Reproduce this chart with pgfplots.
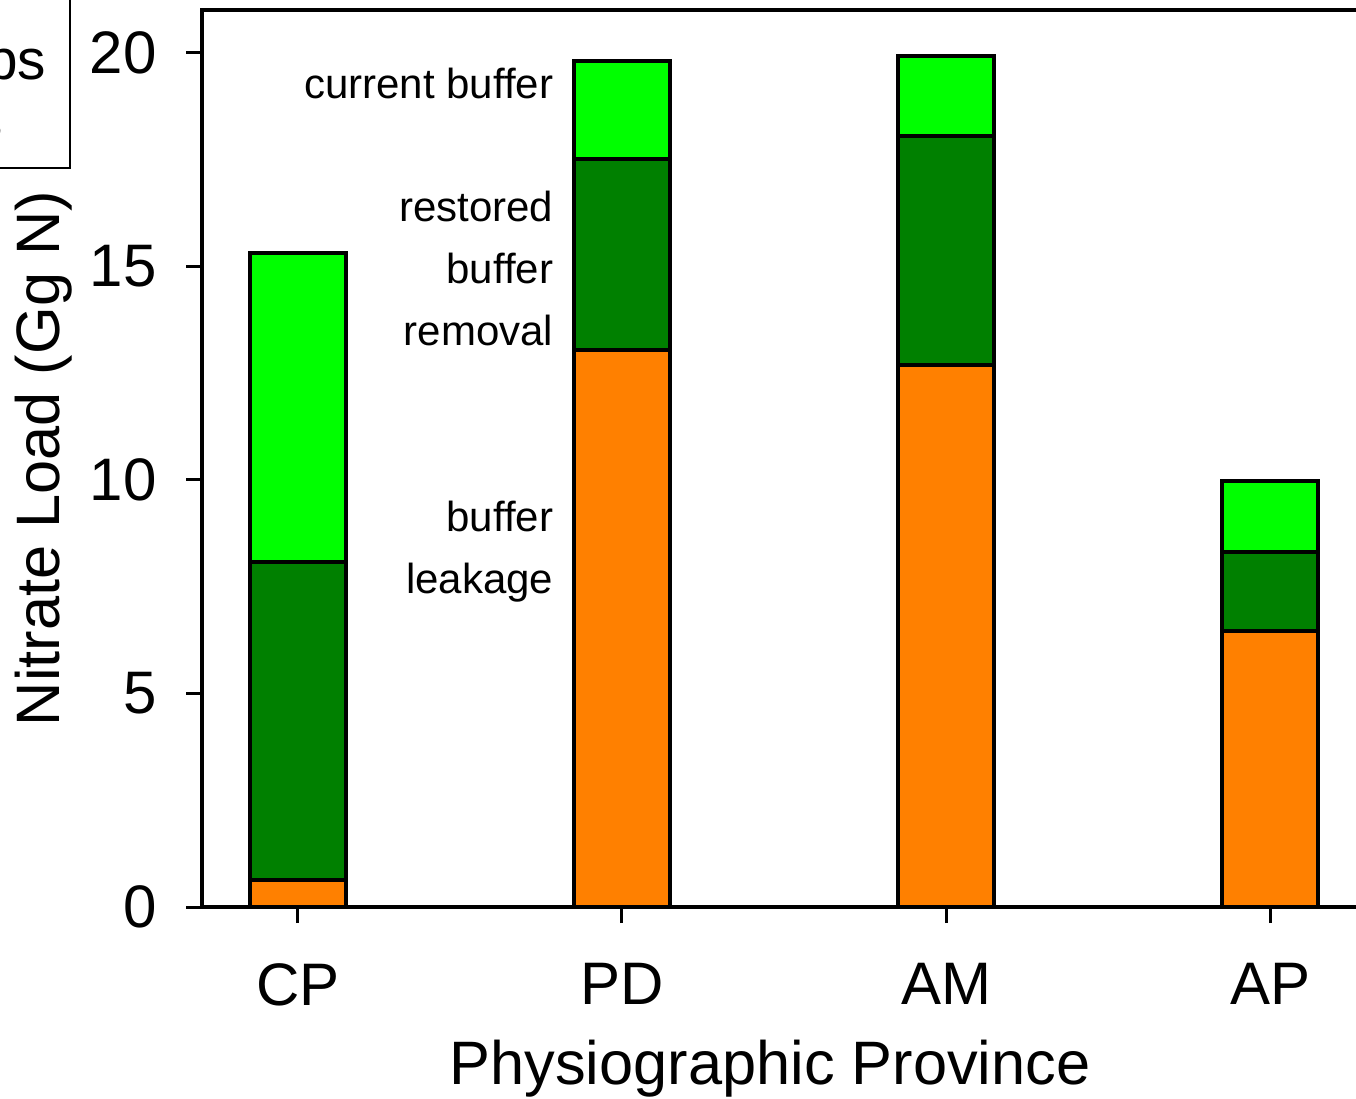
\documentclass[border=0pt]{standalone}
\usepackage{pgfplots}
\pgfplotsset{compat=1.18}
\usepackage{fontspec}
\setmainfont{Liberation Sans}
\definecolor{leak}{HTML}{FF8000}
\definecolor{rem}{HTML}{008000}
\definecolor{cur}{HTML}{00FF00}
\tikzset{annot/.style={anchor=base east, inner sep=0pt, font=\fontsize{12.6}{15}\selectfont}}
\begin{document}
\begin{tikzpicture}
\useasboundingbox (0,0) rectangle (406.8pt,329.4pt);
\clip (0,0) rectangle (406.8pt,329.4pt);
% partially visible box at the top left
\draw[line width=0.5pt] (-120pt,279.0pt) rectangle (21pt,400pt);
\node[anchor=base east, inner sep=0pt, font=\fontsize{17}{20}\selectfont] at (14.1pt,305.4pt) {strips};
\node[anchor=base east, inner sep=0pt, font=\fontsize{17}{20}\selectfont] at (1.2pt,287.4pt) {buffers};
\begin{axis}[
  scale only axis,
  width=349.2pt, height=269.1pt,
  at={(60.6pt,57.3pt)}, anchor=south west,
  ybar stacked,
  bar width=0.296,
  xmin=-0.296, xmax=3.296,
  ymin=0, ymax=21,
  xtick={0,1,2,3},
  xticklabels={CP,PD,AM,AP},
  ytick={0,5,10,15,20},
  tick pos=left,
  tick align=outside,
  major tick length=4.8pt,
  every tick/.style={black, line width=0.9pt},
  axis line style={line width=1.2pt},
  /pgf/number format/assume math mode=true,
  ticklabel style={font=\fontsize{18}{21}\selectfont},
  yticklabel style={anchor=east, inner sep=0pt, xshift=-8.6pt},
  xticklabel style={anchor=north, inner sep=0pt, yshift=-12pt},
  xlabel={Physiographic Province},
  ylabel={Nitrate Load (Gg N)},
  label style={font=\fontsize{18.4}{21}\selectfont},
  xlabel style={at={(axis description cs:0.488,-0.198)}, anchor=base},
  ylabel style={at={(axis description cs:-0.122,0.5)}, anchor=base},
  clip=false,
]
\addplot[fill=leak, draw=black, line width=1.2pt] coordinates {(0,0.63) (1,13.05) (2,12.68) (3,6.46)};
\addplot[fill=rem, draw=black, line width=1.2pt] coordinates {(0,7.44) (1,4.47) (2,5.38) (3,1.84)};
\addplot[fill=cur, draw=black, line width=1.2pt] coordinates {(0,7.25) (1,2.29) (2,1.87) (3,1.67)};
\node[annot] at (axis cs:0.79,18.92) {current buffer};
\node[annot] at (axis cs:0.79,16.05) {restored};
\node[annot] at (axis cs:0.79,14.60) {buffer};
\node[annot] at (axis cs:0.79,13.15) {removal};
\node[annot] at (axis cs:0.79,8.80) {buffer};
\node[annot] at (axis cs:0.79,7.35) {leakage};
\end{axis}
\end{tikzpicture}
\end{document}
